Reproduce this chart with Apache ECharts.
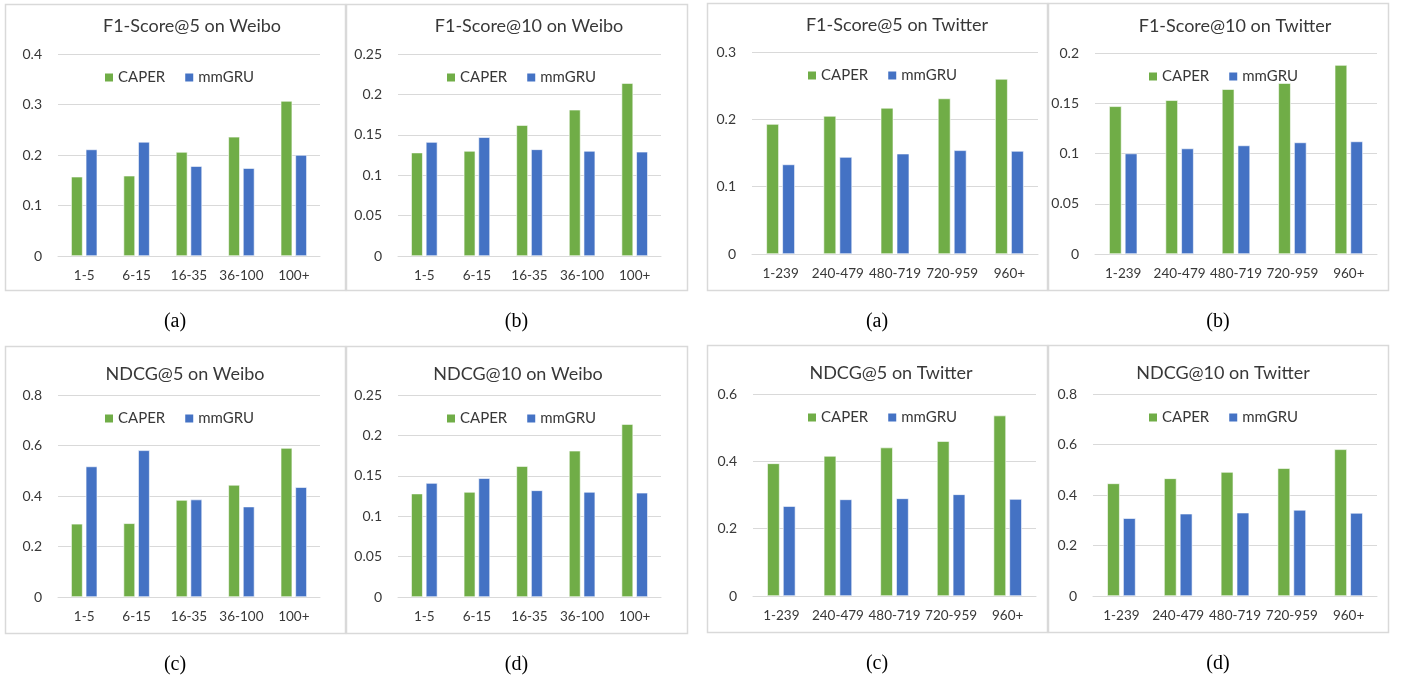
<!DOCTYPE html>
<html>
<head>
<meta charset="utf-8">
<script src="https://cdn.jsdelivr.net/npm/echarts@6/dist/echarts.min.js"></script>
<style>
  html, body { margin: 0; padding: 0; background: #fff; }
  #main { width: 1408px; height: 677px; }
</style>
</head>
<body>
<div id="main"></div>
<script>
// 数据
const weiboCats = ['1-5', '6-15', '16-35', '36-100', '100+']
const twitterCats = ['1-239', '240-479', '480-719', '720-959', '960+']

const f1at5WeiboCaper = [0.157, 0.159, 0.206, 0.236, 0.307]
const f1at5WeiboGru = [0.211, 0.226, 0.178, 0.174, 0.200]
const f1at10WeiboCaper = [0.128, 0.130, 0.162, 0.181, 0.214]
const f1at10WeiboGru = [0.141, 0.147, 0.132, 0.130, 0.129]
const ndcg5WeiboCaper = [0.290, 0.292, 0.384, 0.444, 0.590]
const ndcg5WeiboGru = [0.517, 0.581, 0.386, 0.358, 0.435]
const ndcg10WeiboCaper = [0.128, 0.130, 0.162, 0.181, 0.214]
const ndcg10WeiboGru = [0.141, 0.147, 0.132, 0.130, 0.129]

const f1at5TwCaper = [0.193, 0.205, 0.217, 0.231, 0.260]
const f1at5TwGru = [0.133, 0.144, 0.149, 0.154, 0.153]
const f1at10TwCaper = [0.147, 0.153, 0.164, 0.170, 0.188]
const f1at10TwGru = [0.100, 0.105, 0.108, 0.111, 0.112]
const ndcg5TwCaper = [0.394, 0.416, 0.441, 0.460, 0.536]
const ndcg5TwGru = [0.267, 0.287, 0.290, 0.302, 0.288]
const ndcg10TwCaper = [0.446, 0.466, 0.491, 0.506, 0.581]
const ndcg10TwGru = [0.308, 0.326, 0.330, 0.341, 0.329]

const names = ['CAPER', 'mmGRU']
const colors = ['#70AD47', '#4472C4']

// 每个小图: 标题, 类别, 数据, y轴最大值/间隔, 边框, 网格, 标题中心, 图例位置, 下方标注
const panels = [
  {title: 'F1-Score@5 on Weibo', cats: weiboCats, a: f1at5WeiboCaper, b: f1at5WeiboGru, max: 0.4, step: 0.1,
   box: [5, 4, 340, 286], grid: [58, 54, 262, 202], tc: [192, 28], lg: [103, 78], cap: '(a)'},
  {title: 'F1-Score@10 on Weibo', cats: weiboCats, a: f1at10WeiboCaper, b: f1at10WeiboGru, max: 0.25, step: 0.05,
   box: [346, 4, 341, 286], grid: [398, 54, 263, 202], tc: [529, 28], lg: [445, 78], cap: '(b)'},
  {title: 'F1-Score@5 on Twitter', cats: twitterCats, a: f1at5TwCaper, b: f1at5TwGru, max: 0.3, step: 0.1,
   box: [707, 3, 340, 287], grid: [752, 52, 286, 202], tc: [897, 27], lg: [806, 76], cap: '(a)'},
  {title: 'F1-Score@10 on Twitter', cats: twitterCats, a: f1at10TwCaper, b: f1at10TwGru, max: 0.2, step: 0.05,
   box: [1048, 3, 340, 287], grid: [1095, 53, 282, 201], tc: [1235, 28], lg: [1147, 77], cap: '(b)'},
  {title: 'NDCG@5 on Weibo', cats: weiboCats, a: ndcg5WeiboCaper, b: ndcg5WeiboGru, max: 0.8, step: 0.2,
   box: [5, 346, 340, 287], grid: [58, 395, 262, 202], tc: [185, 376], lg: [103, 419], cap: '(c)'},
  {title: 'NDCG@10 on Weibo', cats: weiboCats, a: ndcg10WeiboCaper, b: ndcg10WeiboGru, max: 0.25, step: 0.05,
   box: [346, 346, 341, 287], grid: [398, 395, 263, 202], tc: [518, 376], lg: [445, 419], cap: '(d)'},
  {title: 'NDCG@5 on Twitter', cats: twitterCats, a: ndcg5TwCaper, b: ndcg5TwGru, max: 0.6, step: 0.2,
   box: [707, 345, 340, 287], grid: [753, 394, 283, 202], tc: [891, 375], lg: [806, 418], cap: '(c)'},
  {title: 'NDCG@10 on Twitter', cats: twitterCats, a: ndcg10TwCaper, b: ndcg10TwGru, max: 0.8, step: 0.2,
   box: [1048, 345, 340, 287], grid: [1093, 394, 284, 202], tc: [1223, 375], lg: [1147, 418], cap: '(d)'}
]

const font = 'Lato, "Open Sans", sans-serif'
const textColor = '#383838'

let grid = [], xAxis = [], yAxis = [], series = [], title = [], legend = [], graphic = []

panels.forEach((p, i) => {
  let [gl, gt, gw, gh] = p.grid
  let [bx, by, bw, bh] = p.box
  grid.push({left: gl, top: gt, width: gw, height: gh})
  xAxis.push({
    type: 'category', gridIndex: i, data: p.cats,
    axisLine: {lineStyle: {color: '#d9d9d9', width: 1}},
    axisTick: {show: false},
    axisLabel: {color: textColor, fontSize: 13.5, fontFamily: font, margin: 13, interval: 0}
  })
  yAxis.push({
    type: 'value', gridIndex: i, min: 0, max: p.max, interval: p.step,
    axisLine: {show: false}, axisTick: {show: false},
    splitLine: {lineStyle: {color: '#d9d9d9', width: 1}},
    axisLabel: {color: textColor, fontSize: 14, fontFamily: font, margin: 16}
  })
  title.push({
    text: p.title, left: p.tc[0], top: p.tc[1] - 11, textAlign: 'center', padding: 0,
    textStyle: {color: textColor, fontSize: 18, fontWeight: 'normal', fontFamily: font}
  })
  // 图例
  legend.push({
    data: names, left: p.lg[0], top: p.lg[1] - 8, padding: 0,
    itemWidth: 10, itemHeight: 10, itemGap: 18,
    icon: 'rect', selectedMode: false,
    textStyle: {color: textColor, fontSize: 15, fontFamily: font, padding: [0, 0, 0, -1]}
  })
  series.push({
    name: names[0], type: 'bar', xAxisIndex: i, yAxisIndex: i, data: p.a,
    barWidth: '22%', barGap: '27%',
    itemStyle: {color: colors[0], borderColor: '#ffffff', borderWidth: 0.6}
  })
  series.push({
    name: names[1], type: 'bar', xAxisIndex: i, yAxisIndex: i, data: p.b,
    barWidth: '22%', barGap: '27%',
    itemStyle: {color: colors[1], borderColor: '#ffffff', borderWidth: 0.6}
  })
  graphic.push({
    type: 'rect', shape: {x: bx + 0.5, y: by + 0.5, width: bw, height: bh},
    style: {fill: 'none', stroke: '#d9d9d9', lineWidth: 1.5}, silent: true
  })
  graphic.push({
    type: 'text', x: bx + bw / 2, y: by + bh + 32,
    style: {text: p.cap, fill: '#000', font: '20px "Liberation Serif", "Times New Roman", serif',
      textAlign: 'center', textVerticalAlign: 'middle'}
  })
})

let chart = echarts.init(document.getElementById('main'))
chart.setOption({
  animation: false,
  backgroundColor: '#ffffff',
  title: title,
  legend: legend,
  grid: grid,
  xAxis: xAxis,
  yAxis: yAxis,
  series: series,
  graphic: graphic
})
</script>
</body>
</html>
